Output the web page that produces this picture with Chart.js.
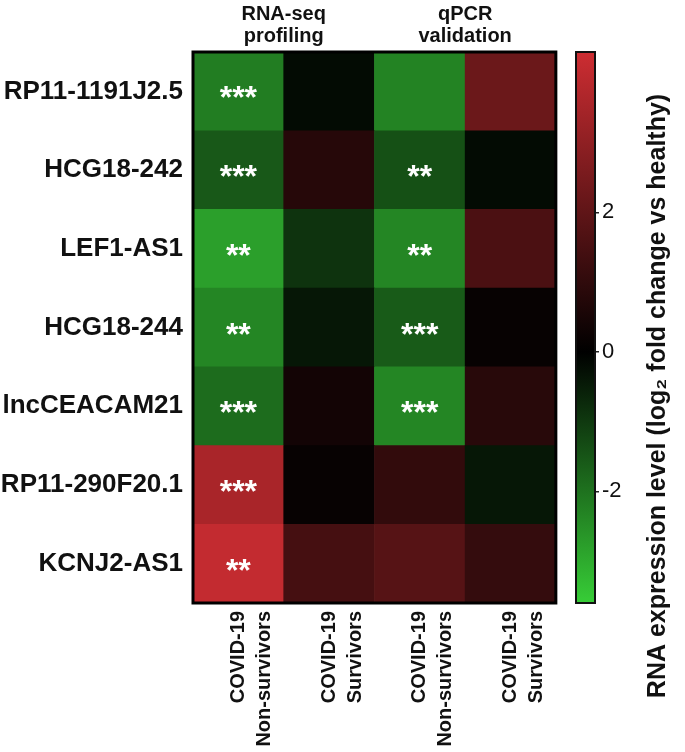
<!DOCTYPE html>
<html>
<head>
<meta charset="utf-8">
<script src="https://cdn.jsdelivr.net/npm/chart.js@4.4.1/dist/chart.umd.min.js"></script>
<style>
  body { margin: 0; background: #fff; }
  #wrap { position: relative; width: 685px; height: 752px; }
  #heat { position: absolute; left: 0; top: 0; }
  #bar { position: absolute; left: 562px; top: 0; }
</style>
</head>
<body>
<div id="wrap">
  <canvas id="heat" width="563" height="752"></canvas>
  <canvas id="bar" width="123" height="752"></canvas>
</div>
<script>
// rows top to bottom
const rows = ['RP11-1191J2.5', 'HCG18-242', 'LEF1-AS1', 'HCG18-244', 'lncCEACAM21', 'RP11-290F20.1', 'KCNJ2-AS1'];
const columns = [['COVID-19', 'Non-survivors'], ['COVID-19', 'Survivors'], ['COVID-19', 'Non-survivors'], ['COVID-19', 'Survivors']];
const groups = [['RNA-seq', 'profiling'], ['qPCR', 'validation']];

// log2 fold change vs healthy, one array per column
const seqNonSurvivors = [-2.2, -1.55, -2.8, -2.35, -1.9, 3.55, 4.1];
const seqSurvivors = [-0.2, 0.8, -0.9, -0.4, 0.4, 0.15, 1.45];
const qpcrNonSurvivors = [-2.3, -1.4, -2.35, -1.6, -2.35, 1.05, 1.8];
const qpcrSurvivors = [2.25, -0.2, 1.57, 0.15, 0.84, -0.4, 1.1];

// significance marks
const seqNonStars = ['***', '***', '**', '**', '***', '***', '**'];
const qpcrNonStars = ['', '**', '**', '***', '***', '', ''];

const colorMin = -3.6;
const colorMax = 4.3;
const colorTicks = [-2, 0, 2];

const FONT = '"Liberation Sans", Arial, sans-serif';
const RED = [205, 45, 50];
const GREEN = [55, 205, 55];

function valueColor(v) {
  let c, t;
  if (v >= 0) { c = RED; t = Math.min(v / colorMax, 1); }
  else { c = GREEN; t = Math.min(v / colorMin, 1); }
  return 'rgb(' + c.map(x => Math.round(x * t)).join(',') + ')';
}

const values = [seqNonSurvivors, seqSurvivors, qpcrNonSurvivors, qpcrSurvivors];
const stars = [seqNonStars, [], qpcrNonStars, []];

// stacked from the bottom row up
const datasets = [];
for (let r = rows.length - 1; r >= 0; r--) {
  datasets.push({
    label: rows[r],
    data: columns.map(() => 1),
    backgroundColor: values.map(col => valueColor(col[r])),
    rowIndex: r,
    borderWidth: 0,
    categoryPercentage: 1,
    barPercentage: 1
  });
}

const heatPlugin = {
  id: 'heatExtras',
  afterDatasetsDraw(chart) {
    const ctx = chart.ctx;
    const a = chart.chartArea;
    ctx.save();
    // stars
    ctx.fillStyle = '#fff';
    ctx.font = 'bold 32px ' + FONT;
    ctx.textAlign = 'center';
    ctx.textBaseline = 'alphabetic';
    chart.data.datasets.forEach((ds, i) => {
      const meta = chart.getDatasetMeta(i);
      meta.data.forEach((el, j) => {
        const s = stars[j][ds.rowIndex];
        if (!s) return;
        const cy = (el.y + el.base) / 2;
        ctx.fillText(s, el.x, cy + 17);
      });
    });
    // outer frame
    ctx.strokeStyle = '#000';
    ctx.lineWidth = 3;
    ctx.strokeRect(a.left, a.top, a.right - a.left, a.bottom - a.top);
    // group titles
    const xs = chart.scales.x;
    ctx.fillStyle = '#111';
    ctx.font = 'bold 20px ' + FONT;
    groups.forEach((g, k) => {
      const cx = (xs.getPixelForValue(2 * k) + xs.getPixelForValue(2 * k + 1)) / 2;
      ctx.fillText(g[0], cx, 20);
      ctx.fillText(g[1], cx, 42);
    });
    ctx.restore();
  }
};

const heatChart = new Chart(document.getElementById('heat'), {
  type: 'bar',
  data: { labels: columns, datasets: datasets },
  options: {
    responsive: false,
    animation: false,
    layout: { padding: { top: 52, right: 4, left: 0, bottom: 0 } },
    plugins: { legend: { display: false }, tooltip: { enabled: false } },
    scales: {
      x: {
        stacked: true,
        grid: { display: false },
        border: { display: false },
        afterFit: s => { s.height = 149; },
        ticks: {
          color: '#111',
          font: { family: FONT, size: 20, weight: 'bold', lineHeight: 1.3 },
          minRotation: 90,
          maxRotation: 90,
          autoSkip: false,
          padding: 0
        }
      },
      y: {
        stacked: true,
        min: 0,
        max: rows.length,
        grid: { display: false },
        border: { display: false },
        afterFit: s => { s.width = 193; },
        afterBuildTicks: s => { s.ticks = rows.map((r, i) => ({ value: rows.length - i - 0.5 })); },
        ticks: {
          color: '#111',
          font: { family: FONT, size: 26, weight: 'bold' },
          padding: 2,
          callback: v => rows[rows.length - 1 - Math.floor(v)]
        }
      }
    }
  },
  plugins: [heatPlugin]
});

const barPlugin = {
  id: 'colorBar',
  beforeDatasetsDraw(chart) {
    const ctx = chart.ctx;
    const a = chart.chartArea;
    const ys = chart.scales.y;
    const yTop = ys.getPixelForValue(colorMax);
    const yBot = ys.getPixelForValue(colorMin);
    const g = ctx.createLinearGradient(0, yTop, 0, yBot);
    g.addColorStop(0, valueColor(colorMax));
    g.addColorStop((ys.getPixelForValue(0) - yTop) / (yBot - yTop), valueColor(0));
    g.addColorStop(1, valueColor(colorMin));
    ctx.save();
    ctx.fillStyle = g;
    ctx.fillRect(a.left, a.top, a.right - a.left, a.bottom - a.top);
    ctx.strokeStyle = '#111';
    ctx.lineWidth = 2;
    ctx.strokeRect(a.left, a.top, a.right - a.left, a.bottom - a.top);
    // axis title, reading bottom to top
    ctx.translate(96, 396);
    ctx.rotate(-Math.PI / 2);
    ctx.fillStyle = '#111';
    ctx.font = 'bold 25px ' + FONT;
    ctx.textAlign = 'center';
    ctx.textBaseline = 'middle';
    ctx.fillText('RNA expression level (log\u2082 fold change vs healthy)', 0, 0);
    ctx.restore();
  }
};

new Chart(document.getElementById('bar'), {
  type: 'scatter',
  data: { datasets: [{ data: [] }] },
  options: {
    responsive: false,
    animation: false,
    layout: { padding: { top: 52, left: 14, right: 0, bottom: 149 } },
    plugins: { legend: { display: false }, tooltip: { enabled: false } },
    scales: {
      x: { display: false, min: 0, max: 1 },
      y: {
        position: 'right',
        min: colorMin,
        max: colorMax,
        afterBuildTicks: s => { s.ticks = colorTicks.map(v => ({ value: v })); },
        afterFit: s => { s.width = 90; },
        grid: { drawOnChartArea: false, tickLength: 4, color: '#222', lineWidth: 1.5 },
        border: { display: false },
        ticks: {
          color: '#111',
          padding: 3,
          font: { family: FONT, size: 22 }
        }
      }
    }
  },
  plugins: [barPlugin]
});
</script>
</body>
</html>
